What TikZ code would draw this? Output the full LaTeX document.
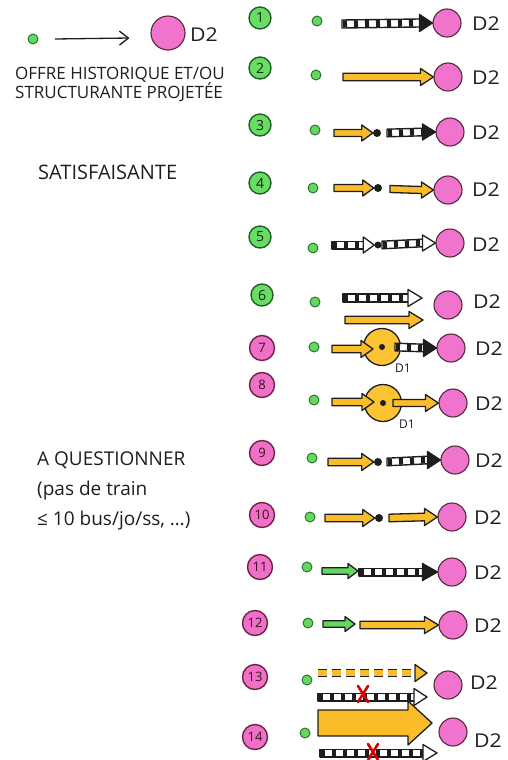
\documentclass[tikz,border=0pt]{standalone}
\usepackage{fontspec}
\setmainfont{Open Sans}
\usetikzlibrary{calc,arrows.meta}

\definecolor{pinkfill}{RGB}{240,115,205}
\definecolor{pinkline}{RGB}{85,40,60}
\definecolor{dotgreen}{RGB}{100,215,95}
\definecolor{dotline}{RGB}{40,110,40}
\definecolor{numgreen}{RGB}{105,220,100}
\definecolor{numgline}{RGB}{35,95,40}
\definecolor{numpink}{RGB}{240,112,200}
\definecolor{numpline}{RGB}{110,35,70}
\definecolor{busyellow}{RGB}{250,188,40}
\definecolor{hubyellow}{RGB}{252,196,50}
\definecolor{ink}{RGB}{30,30,30}

% block arrow with a plain coloured body
\newcommand{\plainarrow}[6]{% fill, from, to, shaft half-height, head half-height, head length
  \filldraw[fill=#1, draw=ink, line width=1.3pt, line join=round]
    ($(#2)+(0,#4)$) -- ($(#3)+(-#6,#4)$) -- ($(#3)+(-#6,#5)$) -- (#3)
    -- ($(#3)+(-#6,-#5)$) -- ($(#3)+(-#6,-#4)$) -- ($(#2)+(0,-#4)$) -- cycle;}

% rail arrow: chequered shaft, head filled black or left white
\newcommand{\railarrow}[6]{% head fill, from, to, shaft half-height, head half-height, head length
  \fill[white] ($(#2)+(0,#4)$) rectangle ($(#3)+(-#6,-#4)$);
  \draw[ink, line width=2*#4pt-1pt, dash pattern=on 4pt off 7pt]
    ($(#2)+(1,0)$) -- ($(#3)+(-#6,0)$);
  \draw[ink, line width=1.4pt, line join=round]
    ($(#3)+(-#6,#4)$) -- ($(#2)+(0,#4)$) -- ($(#2)+(0,-#4)$) -- ($(#3)+(-#6,-#4)$);
  \filldraw[fill=#1, draw=ink, line width=1.3pt, line join=round]
    ($(#3)+(-#6,#5)$) -- (#3) -- ($(#3)+(-#6,-#5)$) -- cycle;}

% planned (dashed) bus arrow
\newcommand{\dashedbusarrow}[6]{% fill, from, to, shaft half-height, head half-height, head length
  \draw[#1, line width=2*#4pt, dash pattern=on 9pt off 5pt]
    (#2) -- ($(#3)+(-#6,0)$);
  \draw[ink, line width=1.3pt, dash pattern=on 9pt off 5pt]
    ($(#2)+(0,#4)$) -- ($(#3)+(-#6,#4)$)
    ($(#2)+(0,-#4)$) -- ($(#3)+(-#6,-#4)$);
  \filldraw[fill=#1, draw=ink, line width=1.3pt, line join=round]
    ($(#3)+(-#6,#5)$) -- (#3) -- ($(#3)+(-#6,-#5)$) -- cycle;}

% red cross over a removed link
\newcommand{\redcross}[1]{%
  \draw[red!85!black, line width=2.6pt, line cap=round]
    ($(#1)+(-5,-8)$) -- ($(#1)+(5,8)$)
    ($(#1)+(5,-8)$) -- ($(#1)+(-5,8)$);}

% wide hand-lettered look for the D labels
\newcommand{\wide}[1]{\scalebox{1.12}[1]{#1}}

\tikzset{
  origin/.style={circle, fill=dotgreen, draw=dotline, line width=0.9pt, minimum size=10pt, inner sep=0pt},
  dest/.style={circle, fill=pinkfill, draw=pinkline, line width=1.1pt, minimum size=28pt, inner sep=0pt},
  hub/.style={circle, fill=hubyellow, draw=ink, line width=1.3pt, minimum size=37pt, inner sep=0pt},
  junction/.style={circle, fill=ink, minimum size=8pt, inner sep=0pt},
  numg/.style={circle, fill=numgreen, draw=numgline, line width=1.4pt, minimum size=22pt, inner sep=0pt, font=\fontsize{14}{14}\selectfont, text=numgline!45!black},
  nump/.style={circle, fill=numpink, draw=numpline, line width=1.4pt, minimum size=25pt, inner sep=0pt, font=\fontsize{13}{13}\selectfont, text=numpline!50!black},
  dlabel/.style={anchor=west, inner sep=0pt, text=ink, font=\fontsize{19}{19}\selectfont},
  hublabel/.style={inner sep=0pt, text=ink, font=\fontsize{12}{12}\selectfont},
  note/.style={anchor=west, inner sep=0pt, text=ink, align=left},
}

\begin{document}
\begin{tikzpicture}[x=1pt, y=-1pt]
\useasboundingbox (0,0) rectangle (508,760);

% ---- legend ----
\node[origin] (lo) at (33,39) {};
\node[dest, minimum size=34pt] (ld) at (168,33) {};
\node[dlabel] (ldl) at (190,35) {\wide{D2}};
\draw[ink, line width=1.3pt, -{Straight Barb[length=9pt,width=14pt]}] ($(lo)+(22,0)$) -- ($(ld.west)+(-21,5)$);
\node[note, font=\fontsize{17}{19}\selectfont] (legtext) at (15,84)
  {OFFRE HISTORIQUE ET/OU\\STRUCTURANTE PROJETÉE};

\node[note, font=\fontsize{20}{20}\selectfont] (sat) at (38,172) {SATISFAISANTE};
\node[note, font=\fontsize{19}{30}\selectfont] (quest) at (37,491)
  {A QUESTIONNER\\(pas de train\\≤ 10 bus/jo/ss, …)};

% ---- row 1 ----
\node[numg] (n1) at (260,18) {1};
\node[origin] (o1) at (317,21) {};
\node[dest] (d1) at (447,23) {};
\node[dlabel] at (472,24) {\wide{D2}};
\coordinate (a1s) at (342,24); \coordinate (a1e) at (d1.west);
\railarrow{ink}{a1s}{a1e}{4}{8.5}{13}

% ---- row 2 ----
\node[numg] (n2) at (260,68) {2};
\node[origin] (o2) at (316,75) {};
\node[dest] (d2) at (448,77) {};
\node[dlabel] at (472,78) {\wide{D2}};
\coordinate (a2s) at (343,77); \coordinate (a2e) at (d2.west);
\plainarrow{busyellow}{a2s}{a2e}{3.8}{8.5}{13}

% ---- row 3 ----
\node[numg] (n3) at (260,125) {3};
\node[origin] (o3) at (315,130) {};
\node[junction] (j3) at (377,133) {};
\node[dest] (d3) at (450,132) {};
\node[dlabel] at (472,133) {\wide{D2}};
\coordinate (a3s) at (334,133); \coordinate (b3s) at (387,133);
\plainarrow{busyellow}{a3s}{j3.west}{3.5}{8}{11}
\railarrow{ink}{b3s}{d3.west}{3.8}{8}{13}

% ---- row 4 ----
\node[numg] (n4) at (260,183) {4};
\node[origin] (o4) at (313,188) {};
\node[junction] (j4) at (378,188) {};
\node[dest] (d4) at (448,190) {};
\node[dlabel] at (472,190) {\wide{D2}};
\coordinate (a4s) at (334,188); \coordinate (b4s) at (390,189);
\plainarrow{busyellow}{a4s}{j4.west}{3.5}{8}{11}
\plainarrow{busyellow}{b4s}{d4.west}{3.5}{8}{12}

% ---- row 5 ----
\node[numg] (n5) at (260,237) {5};
\node[origin] (o5) at (313,248) {};
\node[junction, minimum size=7pt] (j5) at (378,245) {};
\node[dest] (d5) at (450,243) {};
\node[dlabel] at (472,245) {\wide{D2}};
\coordinate (a5s) at (332,245); \coordinate (b5s) at (382,245);
\railarrow{white}{a5s}{j5.west}{3.8}{8}{11}
\railarrow{white}{b5s}{d5.west}{3.8}{8}{13}

% ---- row 6 ----
\node[numg] (n6) at (262,295) {6};
\node[origin] (o6) at (315,302) {};
\node[dest] (d6) at (448,305) {};
\node[dlabel] at (473,302) {\wide{D2}};
\coordinate (a6s) at (343,298); \coordinate (a6e) at (422,298);
\coordinate (b6s) at (345,320); \coordinate (b6e) at (423,320);
\railarrow{white}{a6s}{a6e}{4}{8.5}{14}
\plainarrow{busyellow}{b6s}{b6e}{3.8}{8.5}{14}

% ---- row 7 ----
\node[nump] (n7) at (262,348) {7};
\node[origin] (o7) at (314,347) {};
\node[hub] (h7) at (382,347) {};
\node[junction, minimum size=6pt] (j7) at (h7.center) {};
\node[hublabel] at (403,368) {D1};
\node[dest] (d7) at (451,348) {};
\node[dlabel] at (475,349) {\wide{D2}};
\coordinate (a7s) at (332,349); \coordinate (a7e) at (373,349);
\coordinate (b7s) at (395,347);
\plainarrow{busyellow}{a7s}{a7e}{3.8}{8.5}{12}
\railarrow{ink}{b7s}{d7.west}{3.8}{8.5}{13}

% ---- row 8 ----
\node[nump] (n8) at (262,385) {8};
\node[origin] (o8) at (314,400) {};
\node[hub] (h8) at (383,403) {};
\node[junction, minimum size=6pt] (j8) at (h8.center) {};
\node[hublabel] at (407,424) {D1};
\node[dest] (d8) at (453,403) {};
\node[dlabel] at (475,404) {\wide{D2}};
\coordinate (a8s) at (332,402); \coordinate (a8e) at (374,402);
\coordinate (b8s) at (393,403);
\plainarrow{busyellow}{a8s}{a8e}{3.8}{8.5}{12}
\plainarrow{busyellow}{b8s}{d8.west}{3.5}{8.5}{13}

% ---- row 9 ----
\node[nump] (n9) at (262,453) {9};
\node[origin] (o9) at (312,458) {};
\node[junction] (j9) at (378,462) {};
\node[dest] (d9) at (455,460) {};
\node[dlabel] at (475,461) {\wide{D2}};
\coordinate (a9s) at (328,462); \coordinate (b9s) at (387,462);
\plainarrow{busyellow}{a9s}{j9.west}{3.8}{8.5}{12}
\railarrow{ink}{b9s}{d9.west}{3.8}{8.5}{13}

% ---- row 10 ----
\node[nump] (n10) at (262,515) {10};
\node[origin] (o10) at (310,517) {};
\node[junction] (j10) at (379,518) {};
\node[dest] (d10) at (452,517) {};
\node[dlabel] at (474,518) {\wide{D2}};
\coordinate (a10s) at (325,518); \coordinate (b10s) at (389,518);
\plainarrow{busyellow}{a10s}{j10.west}{3.8}{8.5}{12}
\plainarrow{busyellow}{b10s}{d10.west}{3.8}{8.5}{13}

% ---- row 11 ----
\node[nump] (n11) at (260,567) {11};
\node[origin] (o11) at (307,567) {};
\node[dest] (d11) at (452,572) {};
\node[dlabel] at (474,573) {\wide{D2}};
\coordinate (a11s) at (322,571); \coordinate (a11e) at (358,571);
\coordinate (b11s) at (359,572);
\plainarrow{dotgreen}{a11s}{a11e}{3.3}{7.5}{10}
\railarrow{ink}{b11s}{d11.west}{3.8}{8.5}{15}

% ---- row 12 ----
\node[nump] (n12) at (255,623) {12};
\node[origin] (o12) at (308,623) {};
\node[dest] (d12) at (453,625) {};
\node[dlabel] at (474,626) {\wide{D2}};
\coordinate (a12s) at (323,624); \coordinate (a12e) at (355,624);
\coordinate (b12s) at (360,625);
\plainarrow{dotgreen}{a12s}{a12e}{3.3}{7.5}{10}
\plainarrow{busyellow}{b12s}{d12.west}{3.8}{8.5}{14}

% ---- row 13 ----
\node[nump] (n13) at (255,677) {13};
\node[origin] (o13) at (307,680) {};
\node[dest] (d13) at (448,685) {};
\node[dlabel] at (470,683) {\wide{D2}};
\coordinate (a13s) at (318,673); \coordinate (a13e) at (427,673);
\coordinate (b13s) at (318,697); \coordinate (b13e) at (427,697);
\coordinate (x13) at (363,694);
\dashedbusarrow{busyellow}{a13s}{a13e}{3.5}{8.5}{12}
\railarrow{white}{b13s}{b13e}{3.8}{8.5}{13}
\redcross{x13}

% ---- row 14 ----
\node[nump] (n14) at (255,737) {14};
\node[origin] (o14) at (305,733) {};
\node[dest] (d14) at (453,732) {};
\node[dlabel] at (474,741) {\wide{D2}};
\coordinate (a14s) at (318,723); \coordinate (a14e) at (432,723);
\coordinate (b14s) at (320,753); \coordinate (b14e) at (437,753);
\coordinate (x14) at (373,752);
\plainarrow{busyellow}{a14s}{a14e}{13}{22}{24}
\railarrow{white}{b14s}{b14e}{3.8}{8.5}{14}
\redcross{x14}
\end{tikzpicture}
\end{document}
